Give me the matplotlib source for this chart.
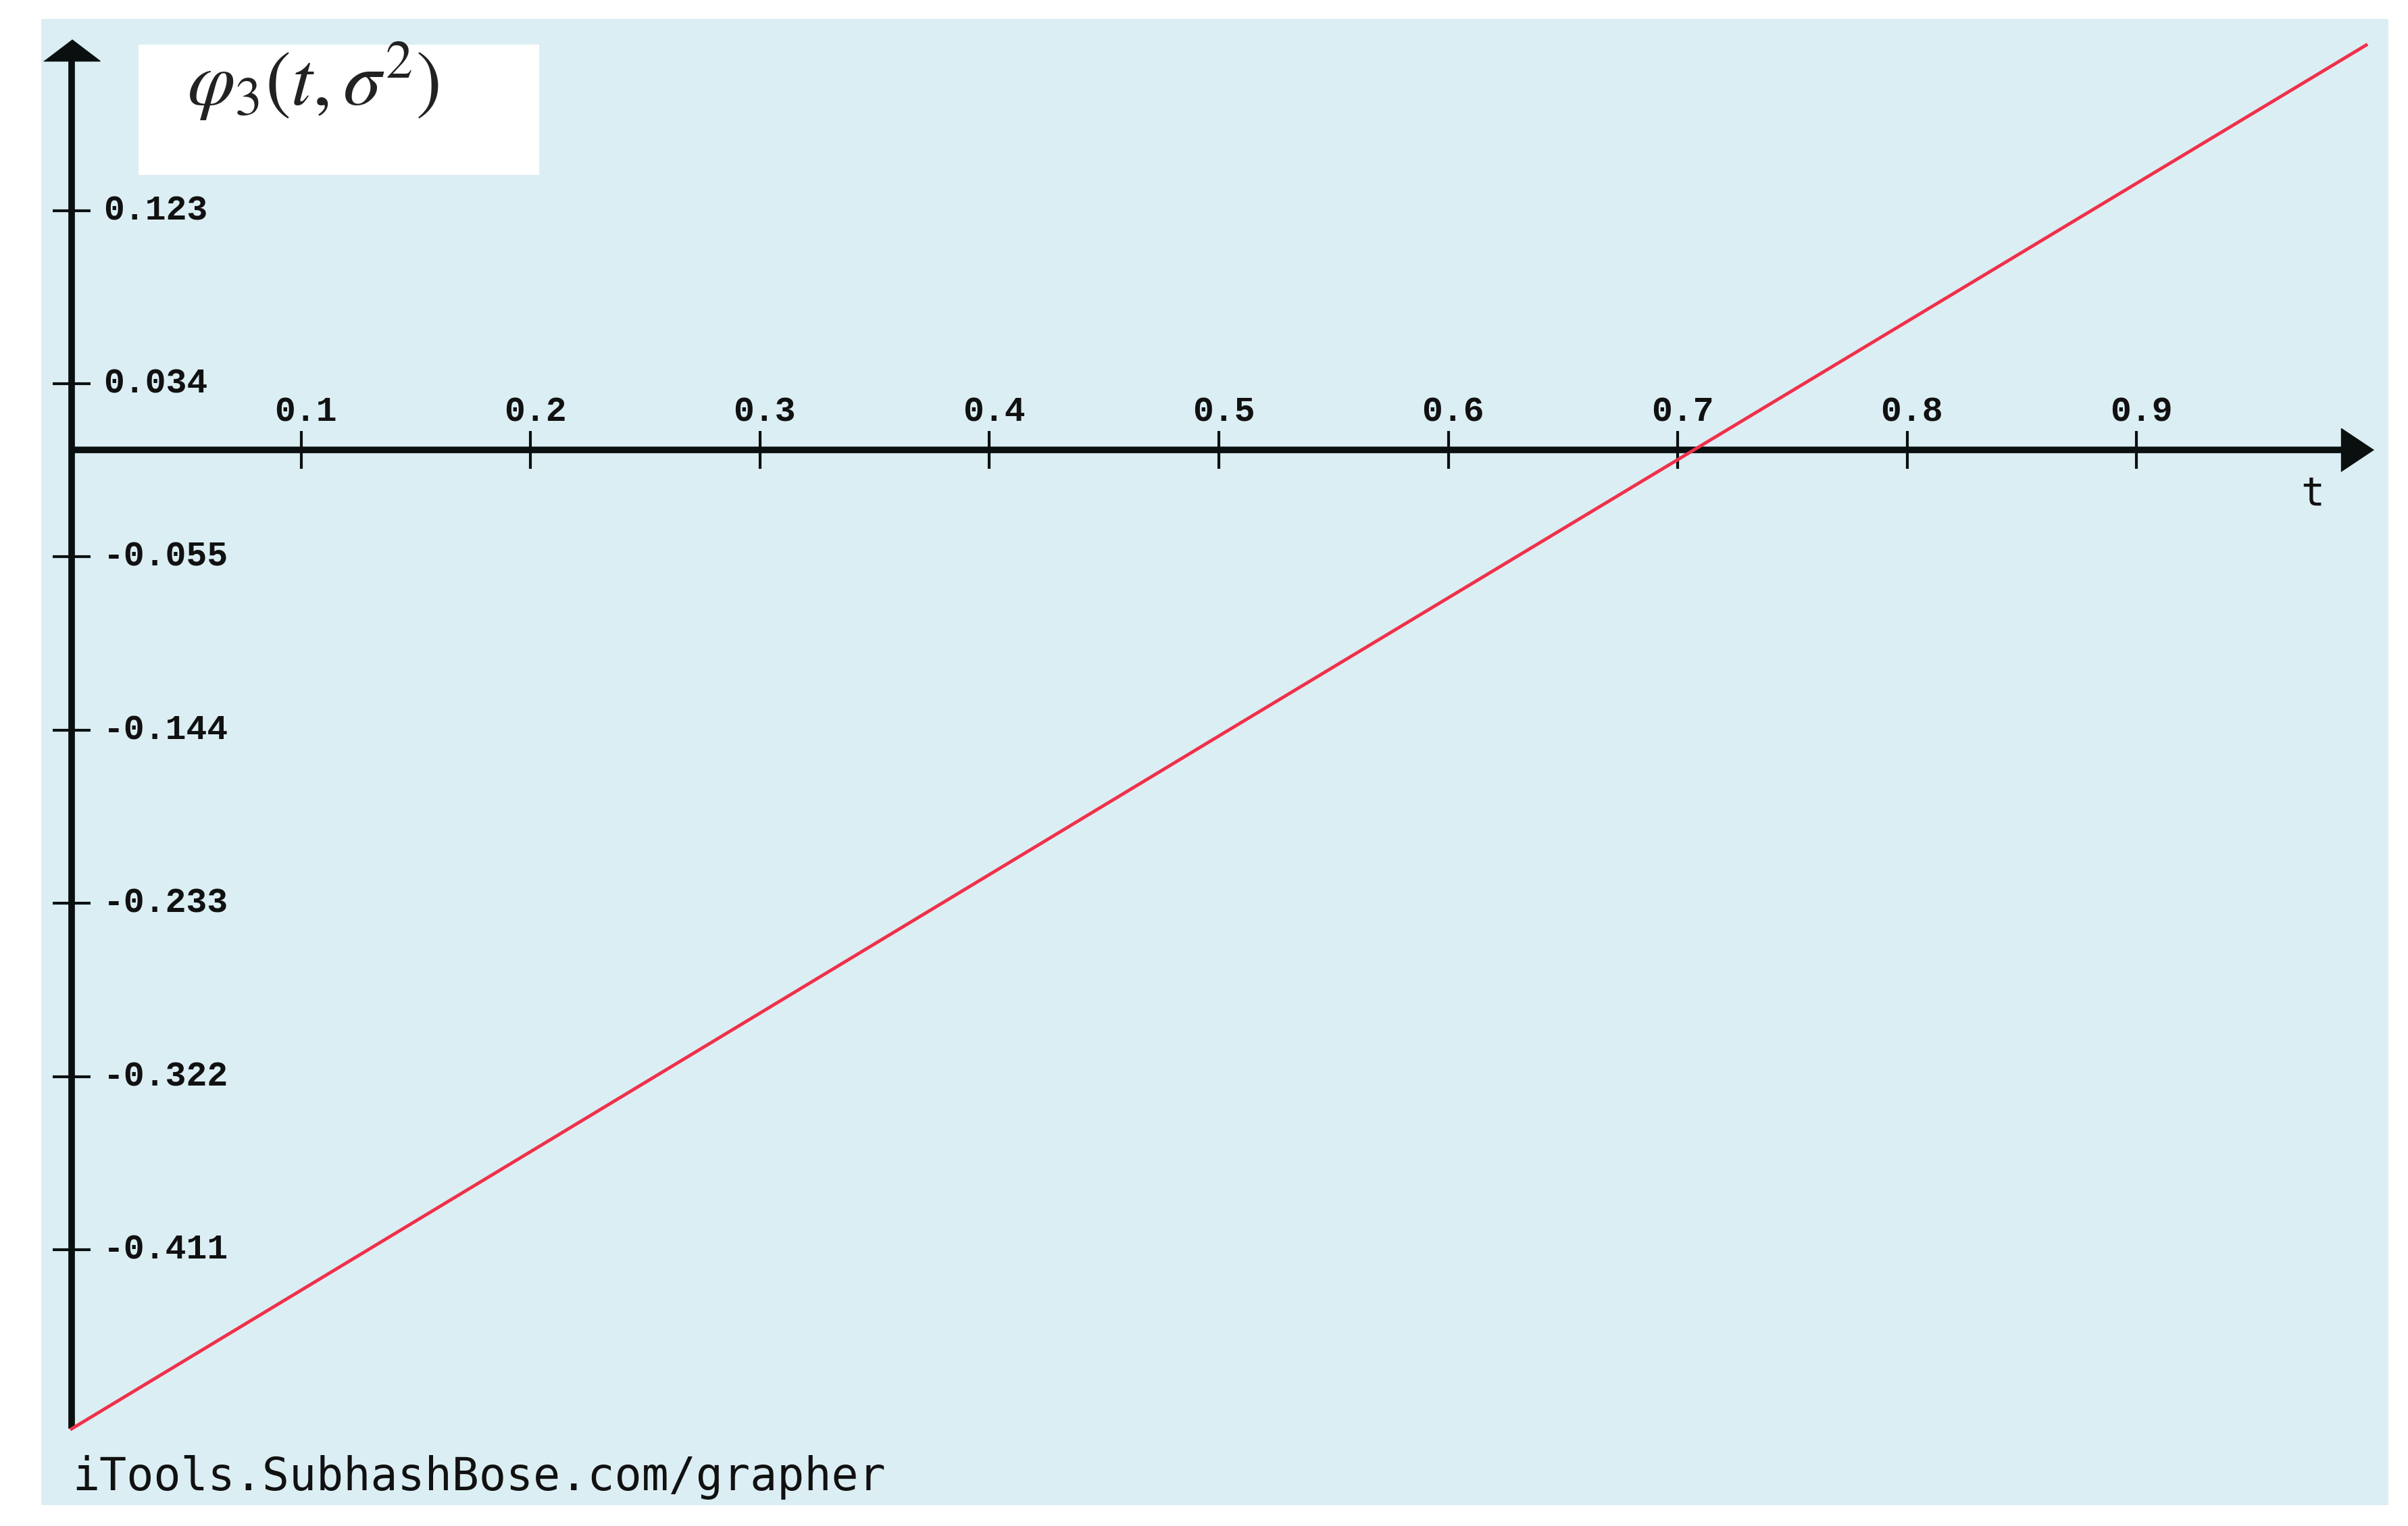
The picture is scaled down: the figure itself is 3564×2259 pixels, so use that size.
import numpy as np
import matplotlib
matplotlib.use("Agg")
import matplotlib.pyplot as plt
from matplotlib.patches import Rectangle

plt.rcParams['mathtext.fontset'] = 'stix'

#===Data===#
t_vals = [0.0, 0.5, 1.0]
phi_vals = [-0.503, -0.147, 0.208]

x_ticks = [0.1, 0.2, 0.3, 0.4, 0.5, 0.6, 0.7, 0.8, 0.9]
x_tick_labels = ['0.1', '0.2', '0.3', '0.4', '0.5', '0.6', '0.7', '0.8', '0.9']
y_ticks = [0.123, 0.034, -0.055, -0.144, -0.233, -0.322, -0.411]
y_tick_labels = ['0.123', '0.034', '-0.055', '-0.144', '-0.233', '-0.322', '-0.411']

title_text = r'$\varphi_3(t,\sigma^2)$'
x_name = 't'
watermark = 'iTools.SubhashBose.com/grapher'

#===Figure===#
W, H = 3564, 2259
fig = plt.figure(figsize=(W / 100, H / 100), dpi=100)
fig.patch.set_facecolor('white')

# light blue panel and white title box (figure pixels)
fig.add_artist(Rectangle((61 / W, 1 - 2228 / H), (3535 - 61) / W, (2228 - 28) / H,
                         transform=fig.transFigure, facecolor='#dbeef3',
                         edgecolor='none', zorder=-2))
fig.add_artist(Rectangle((205 / W, 1 - 259 / H), (798 - 205) / W, (259 - 66) / H,
                         transform=fig.transFigure, facecolor='white',
                         edgecolor='none', zorder=-1))

# axes fills the figure, limits chosen so the origin sits at (106, 666) px
ax = fig.add_axes([0, 0, 1, 1])
ax.set_facecolor('none')
px_x, px_y = 3396.0, 2881.0
x0, y0 = 106, 666
ax.set_xlim(-x0 / px_x, (W - x0) / px_x)
ax.set_ylim((y0 - H) / px_y, y0 / px_y)

axis_col = '#0a1010'
for side in ['top', 'right']:
    ax.spines[side].set_visible(False)
ax.spines['left'].set_position(('data', 0))
ax.spines['bottom'].set_position(('data', 0))
ax.spines['left'].set_bounds(phi_vals[0], 0.201)
ax.spines['bottom'].set_bounds(0, 0.989)
for side in ['left', 'bottom']:
    ax.spines[side].set_linewidth(7)
    ax.spines[side].set_color(axis_col)
    ax.spines[side].set_capstyle('butt')

ax.set_xticks(x_ticks)
ax.set_yticks(y_ticks)
ax.tick_params(direction='inout', length=40, width=3, color=axis_col,
               labelbottom=False, labelleft=False)

# arrow heads
ax.plot([0], [0.200], marker=[(-1, 0), (1, 0), (0, 0.76)], markersize=60,
        color=axis_col, clip_on=False, zorder=5)
ax.plot([0.989], [0], marker=[(0, -1), (0, 1), (1.5, 0)], markersize=69,
        color=axis_col, clip_on=False, zorder=5)

# tick labels
tick_font = dict(fontsize=37, fontweight='bold', family='Liberation Mono',
                 color='#111111')
for x, lab in zip(x_ticks, x_tick_labels):
    ax.annotate(lab, (x, 0), xytext=(5, 40), textcoords='offset points',
                ha='center', va='center', **tick_font)
for y, lab in zip(y_ticks, y_tick_labels):
    ax.annotate(lab, (0, y), xytext=(34, 0), textcoords='offset points',
                ha='left', va='center', **tick_font)

ax.annotate(x_name, (1.0, 0), xytext=(-57, -47), textcoords='offset points',
            ha='center', va='center', fontsize=42, family='DejaVu Sans Mono',
            color='#111111')

#===Curve===#
ax.plot(t_vals, phi_vals, color='#f0304a', linewidth=3.5, zorder=4)

#===Labels===#
fig.text(277 / W, 1 - 120 / H, title_text, fontsize=82, ha='left', va='center',
         color='#222222')
fig.text(107 / W, 1 - 2187 / H, watermark, fontsize=48, ha='left', va='center',
         family='DejaVu Sans Mono', color='#111111')

fig.savefig('out.png', dpi=100)
